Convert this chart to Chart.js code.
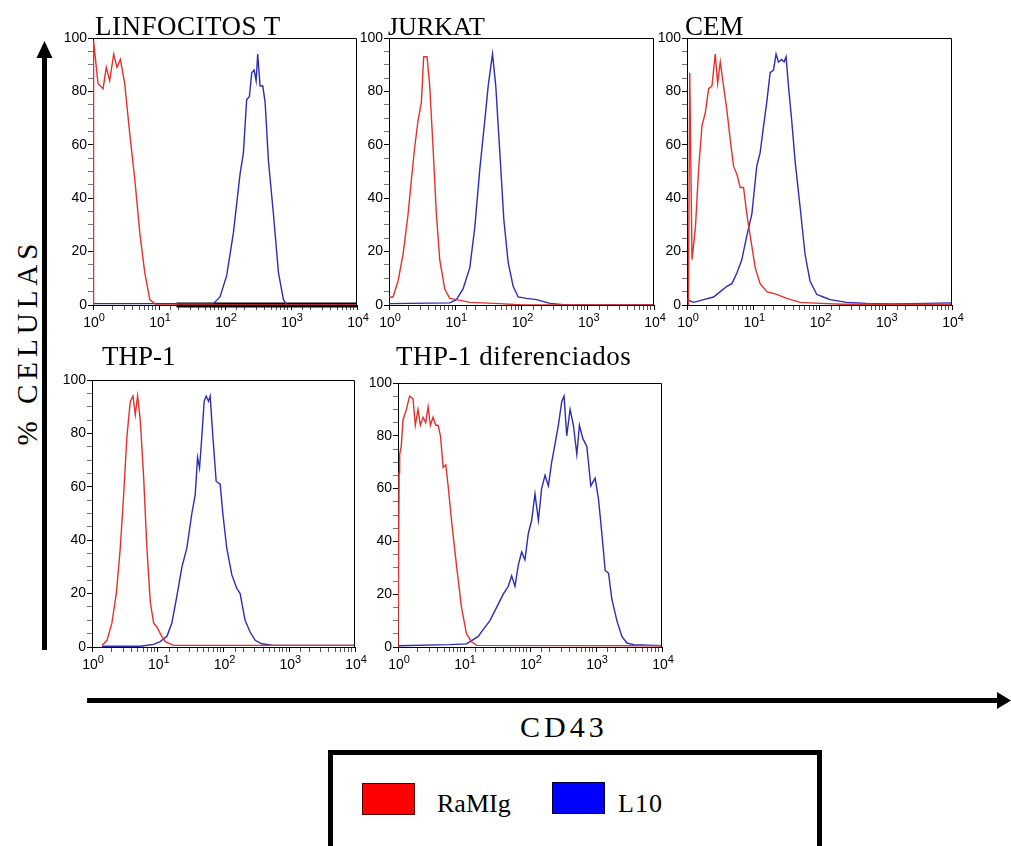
<!DOCTYPE html>
<html>
<head>
<meta charset="utf-8">
<script src="https://cdn.jsdelivr.net/npm/chart.js@4.4.1/dist/chart.umd.min.js"></script>
<style>
  body { margin: 0; background: #fff; }
  #fig { position: relative; width: 1011px; height: 846px; overflow: hidden; background: #fff; }
  #fig canvas { position: absolute; }
  .serif { position: absolute; font-family: "Liberation Serif", "Times New Roman", serif; color: #000; white-space: nowrap; }
  .sw { position: absolute; box-sizing: border-box; border: 1px solid #500; }
</style>
</head>
<body>
<div id="fig">
  <svg width="1011" height="846" style="position:absolute;left:0;top:0">
    <rect x="42" y="55" width="5" height="595" fill="#000"/>
    <polygon points="36.5,58 44.5,41 52.5,58" fill="#000"/>
    <rect x="87" y="698" width="912" height="5" fill="#000"/>
    <polygon points="997,692 1011,700.5 997,709" fill="#000"/>
  </svg>

  <canvas id="c1"></canvas>
  <canvas id="c2"></canvas>
  <canvas id="c3"></canvas>
  <canvas id="c4"></canvas>
  <canvas id="c5"></canvas>

  <div class="serif" style="left:95px;top:13px;font-size:27px;line-height:27px;letter-spacing:0.5px">LINFOCITOS T</div>
  <div class="serif" style="left:388px;top:13px;font-size:26px;line-height:27px">JURKAT</div>
  <div class="serif" style="left:685px;top:13px;font-size:27px;line-height:27px">CEM</div>
  <div class="serif" style="left:102px;top:343px;font-size:27px;line-height:27px">THP-1</div>
  <div class="serif" style="left:396px;top:343px;font-size:27px;line-height:27px;letter-spacing:0.5px">THP-1 diferenciados</div>

  <div class="serif" style="left:27px;top:342px;font-size:29px;line-height:29px;letter-spacing:5px;transform:translate(-50%,-50%) rotate(-90deg)">% CELULAS</div>
  <div class="serif" style="left:520px;top:712px;font-size:30px;line-height:30px;letter-spacing:4px">CD43</div>

  <div style="position:absolute;left:328px;top:750px;width:494px;height:120px;box-sizing:border-box;border:5px solid #000"></div>
  <div class="sw" style="left:362px;top:783px;width:53px;height:32px;background:#ff0000"></div>
  <div class="serif" style="left:437px;top:791px;font-size:26px;line-height:26px">RaMIg</div>
  <div class="sw" style="left:552px;top:782px;width:53px;height:32px;background:#0000ff;border-color:#003"></div>
  <div class="serif" style="left:618px;top:791px;font-size:26px;line-height:26px;letter-spacing:1px">L10</div>
</div>

<script>
// histogram traces, [fluorescence, % cells]
const linfocitosRamig = [[1,0],[1.02,99],[1.19,83],[1.42,81],[1.59,89],[1.79,84],[2.06,94],[2.31,89],[2.6,92],[3.02,83],[3.61,64],[4.3,47],[5.12,27],[6.09,12],[7.26,2],[9.2,0],[10000,0]];
const linfocitosL10 = [[1,0.5],[66.5,0.5],[84,3],[106,11],[134,27],[169,49],[190,57],[213,77],[234,78],[254,87],[276,88],[296,84],[313,94],[340,82],[374,82],[405,76],[455,54],[542,34],[646,12],[769,2],[865,0],[10000,0]];
const linfocitosBase = [[18.4,0],[10000,0]];

const jurkatRamig = [[1,3],[1.15,3],[1.37,9],[1.63,19],[1.94,34],[2.18,47],[2.44,59],[2.74,69],[3.08,76],[3.34,93],[3.75,93],[4.12,82],[4.62,59],[5.19,34],[5.83,17],[6.94,6],[8.26,2.5],[10.4,2],[16.6,1],[47,0.5],[106,0],[10000,0]];
const jurkatL10 = [[1,0.5],[8.26,0.8],[10.4,2],[13.1,6],[16.6,14],[19.7,29],[23.5,51],[27.9,69],[31.4,82],[36.5,94],[40.9,82],[47.1,57],[54.1,32],[62.9,16],[74.8,7],[89,3],[119,2.5],[169,2],[268,0.6],[479,0],[10000,0]];

const cemRamig = [[1.05,0],[1.1,87],[1.19,17],[1.34,29],[1.5,51],[1.68,67],[1.89,72],[2.12,81],[2.38,82],[2.67,94],[2.9,83],[3.18,91],[3.56,82],[4.0,73],[4.49,62],[5.04,52],[5.66,49],[6.35,44],[7.13,44],[8.0,34],[8.99,26],[10.7,14],[12.7,8],[16,5],[22.6,4],[32,2.5],[50.8,1],[102,0.6],[228,0.3],[10000,0.3]];
const cemL10 = [[1,2],[1.26,1],[1.78,2],[2.52,3],[3.18,5],[4.0,7],[4.76,8],[5.66,12],[6.73,17],[8.0,26],[9.52,34],[11.3,52],[12.7,57],[14.3,67],[16,76],[18,87],[20.2,88],[22.1,94],[24,91],[26.9,92],[29.2,91],[31.3,93],[34,82],[38.1,69],[42.8,54],[50.8,37],[60.5,19],[71.9,9],[90.6,4],[114,3],[144,2],[257,1],[513,0.6],[1294,0.4],[4108,0.6],[9220,0.8],[10000,0.8]];

const thp1Ramig = [[1.42,0.6],[1.69,2.5],[2.01,9],[2.34,20],[2.69,37],[3.03,57],[3.4,79],[3.82,92],[4.2,94],[4.55,87],[4.94,94],[5.42,85],[6.09,64],[6.84,37],[7.69,17],[8.65,9],[9.71,7.5],[10.9,5],[13,2],[17.4,0.6],[10000,0.6]];
const thp1L10 = [[1.42,0.3],[5.42,0.3],[8.65,1],[10.9,2],[13.8,4],[16.4,9],[19.5,19],[23.3,30],[27.7,37],[33,50],[37.1,57],[40.3,71],[43.2,67],[46.9,79],[50.8,92],[54.5,94],[59.2,92],[62.7,94],[68.8,79],[77.4,62],[89,61],[97.7,50],[112,37],[134,27],[159,22],[179,20],[213,10],[254,5.6],[303,2.5],[382,1.2],[574,0.6],[10000,0.6]];

const thp1DifRamig = [[1,0],[1.04,66],[1.06,73],[1.12,76],[1.19,86],[1.34,90],[1.5,95],[1.69,94],[1.83,84],[2.01,90],[2.18,84],[2.4,87],[2.63,85],[2.86,91],[3.1,84],[3.4,87],[3.73,84],[4.05,84],[4.4,80],[4.83,68],[5.3,69],[5.75,61],[6.46,48],[7.69,31],[9.16,15],[10.9,5],[13,2],[15.5,0.6],[10000,0.5]];
const thp1DifL10 = [[1,0.5],[6.09,0.9],[10.9,1.2],[13.8,2.8],[16.4,4],[19.5,6.6],[24.7,10],[31.2,15],[39.3,20],[46.9,23],[52.7,27],[59.2,23],[66.5,31],[74.7,36],[83.9,33],[94.3,43],[106,48],[119,58],[134,48],[150,60],[169,65],[190,61],[213,70],[240,77],[269,84],[303,93],[328,95],[360,80],[405,90],[455,84],[512,73],[561,84],[631,79],[726,76],[835,61],[971,64],[1091,56],[1227,43],[1377,29],[1549,28],[1741,18],[2072,10],[2466,4],[2938,1.5],[3715,0.9],[10000,0.5]];

const yTicks = [0, 20, 40, 60, 80, 100];

const RED = '#e5312c';
const BLUE = '#2c2cb8';
const SANS = '"Liberation Sans", "DejaVu Sans", sans-serif';

function isDecade(v) {
  const e = Math.log10(v);
  return Math.abs(e - Math.round(e)) < 1e-9;
}

// closes the box and writes the 10^n labels with a real raised exponent
const frame = {
  id: 'frame',
  afterDraw(chart) {
    const a = chart.chartArea, c = chart.ctx, sx = chart.scales.x;
    c.save();
    c.strokeStyle = '#000';
    c.lineWidth = 1;
    c.beginPath();
    c.moveTo(a.left, a.top + 0.5);
    c.lineTo(a.right - 0.5, a.top + 0.5);
    c.lineTo(a.right - 0.5, a.bottom);
    c.stroke();

    c.fillStyle = '#000';
    c.textBaseline = 'alphabetic';
    sx.ticks.forEach(t => {
      if (!isDecade(t.value)) return;
      const px = sx.getPixelForValue(t.value);
      const exp = String(Math.round(Math.log10(t.value)));
      c.font = '14px ' + SANS;
      const w1 = c.measureText('10').width;
      c.font = '11px ' + SANS;
      const w2 = c.measureText(exp).width;
      const x0 = px - (w1 + w2) / 2 + 1;
      c.font = '14px ' + SANS;
      c.fillText('10', x0, a.bottom + 22);
      c.font = '11px ' + SANS;
      c.fillText(exp, x0 + w1, a.bottom + 16);
    });
    c.restore();
  }
};

function serie(pts, color, width) {
  return {
    data: pts.map(p => ({ x: p[0], y: p[1] })),
    borderColor: color,
    borderWidth: width || 1.4,
    pointRadius: 0,
    tension: 0,
    fill: false
  };
}

function panel(id, L, T, R, B, sets) {
  const cv = document.getElementById(id);
  cv.width = R - L + 60;
  cv.height = B - T + 38;
  cv.style.left = (L - 45) + 'px';
  cv.style.top = (T - 10) + 'px';
  const font = { family: SANS, size: 14 };
  new Chart(cv, {
    type: 'line',
    data: { datasets: sets },
    options: {
      responsive: false,
      animation: false,
      layout: { padding: { top: 10, right: 15, left: 0, bottom: 0 } },
      plugins: { legend: { display: false }, tooltip: { enabled: false } },
      scales: {
        x: {
          type: 'logarithmic',
          min: 1,
          max: 10000,
          border: { color: '#000', width: 1 },
          grid: {
            drawOnChartArea: false,
            tickLength: 5,
            tickColor: ctx => isDecade(ctx.tick.value) ? '#000' : '#555'
          },
          ticks: {
            autoSkip: false,
            maxRotation: 0,
            font: font,
            callback: () => ''
          },
          afterFit: s => { s.height = 28; }
        },
        y: {
          min: 0,
          max: 100,
          border: { color: '#000', width: 1 },
          grid: {
            drawOnChartArea: false,
            tickLength: 5,
            tickColor: ctx => yTicks.includes(ctx.tick.value) ? '#000' : '#777'
          },
          ticks: {
            stepSize: 5,
            autoSkip: false,
            padding: 1,
            color: '#000',
            font: font,
            callback: v => yTicks.includes(v) ? v : ''
          },
          afterFit: s => { s.width = 45; }
        }
      }
    },
    plugins: [frame]
  });
}

const baseLine = Object.assign(serie(linfocitosBase, '#000', 5), { clip: false });

panel('c1', 93, 38, 357, 305, [serie(linfocitosRamig, RED), serie(linfocitosL10, BLUE), baseLine]);
panel('c2', 389, 38, 654, 305, [serie(jurkatRamig, RED), serie(jurkatL10, BLUE)]);
panel('c3', 687, 38, 952, 305, [serie(cemRamig, RED), serie(cemL10, BLUE)]);
panel('c4', 92, 380, 355, 647, [serie(thp1Ramig, RED), serie(thp1L10, BLUE)]);
panel('c5', 398, 383, 662, 647, [serie(thp1DifRamig, RED), serie(thp1DifL10, BLUE)]);
</script>
</body>
</html>
